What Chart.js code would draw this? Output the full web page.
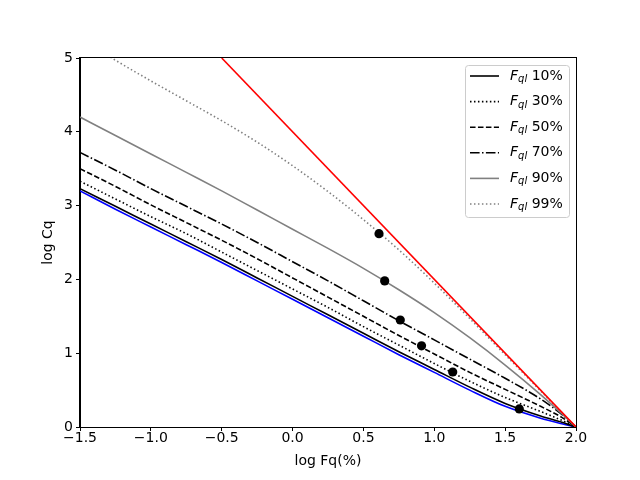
<!DOCTYPE html>
<html>
<head>
<meta charset="utf-8">
<script src="https://cdn.jsdelivr.net/npm/chart.js@4/dist/chart.umd.min.js"></script>
<style>
  html, body { margin: 0; padding: 0; background: #fff; }
  #c { display: block; }
</style>
</head>
<body>
<canvas id="c" width="640" height="480"></canvas>
<script>
// ---- data ----
const xs = [-1.5, -1.25, -1.0, -0.75, -0.5, -0.25, 0, 0.25, 0.5, 0.75, 1.0, 1.25, 1.5, 1.75, 1.9, 2.0];
const lowerBound = [3.20, 2.95, 2.71, 2.47, 2.23, 1.98, 1.73, 1.48, 1.23, 0.98, 0.74, 0.50, 0.28, 0.12, 0.045, 0];
const fq10 = [3.23, 2.99, 2.75, 2.51, 2.27, 2.02, 1.77, 1.52, 1.27, 1.02, 0.78, 0.54, 0.32, 0.15, 0.065, 0];
const fq30 = [3.33, 3.09, 2.85, 2.62, 2.37, 2.12, 1.87, 1.62, 1.36, 1.11, 0.86, 0.62, 0.40, 0.21, 0.09, 0];
const fq50 = [3.50, 3.26, 3.01, 2.77, 2.53, 2.28, 2.02, 1.76, 1.50, 1.24, 0.99, 0.74, 0.51, 0.28, 0.13, 0];
const fq70 = [3.72, 3.48, 3.23, 2.99, 2.75, 2.50, 2.24, 1.98, 1.71, 1.44, 1.18, 0.92, 0.66, 0.38, 0.17, 0];
const fq90 = [4.20, 3.95, 3.70, 3.45, 3.20, 2.94, 2.68, 2.42, 2.15, 1.86, 1.55, 1.21, 0.84, 0.44, 0.18, 0];
const fq99 = [5.27, 4.97, 4.69, 4.42, 4.15, 3.86, 3.54, 3.19, 2.81, 2.40, 1.95, 1.47, 0.98, 0.49, 0.19, 0];
const upperX = [-0.5, 2.0];
const upperY = [5, 0];
const markerX = [0.61, 0.65, 0.76, 0.91, 1.13, 1.60];
const markerY = [2.62, 1.98, 1.45, 1.10, 0.745, 0.245];
const seriesNames = ['10%', '30%', '50%', '70%', '90%', '99%'];
const xTicks = [-1.5, -1.0, -0.5, 0.0, 0.5, 1.0, 1.5, 2.0];
const yTicks = [0, 1, 2, 3, 4, 5];
const xTitle = 'log Fq(%)';
const yTitle = 'log Cq';

// ---- styles ----
const LW = 1.6;
const DOT = [1.5, 2.475];
const DASH = [5.55, 2.4];
const DASHDOT = [9.6, 2.4, 1.5, 2.4];
const seriesValues = [fq10, fq30, fq50, fq70, fq90, fq99];
const seriesStyles = [
  { color: '#000000', dash: [] },
  { color: '#000000', dash: DOT },
  { color: '#000000', dash: DASH },
  { color: '#000000', dash: DASHDOT },
  { color: '#808080', dash: [] },
  { color: '#808080', dash: DOT }
];
const pts = (xa, ya) => xa.map((x, i) => ({ x: x, y: ya[i] }));

const datasets = [];
datasets.push({
  label: 'lower', data: pts(xs, lowerBound), borderColor: '#0000ff', borderWidth: LW,
  pointRadius: 0, cubicInterpolationMode: 'monotone', order: 20, inLegend: false
});
seriesValues.forEach((vals, i) => {
  datasets.push({
    label: 'F_ql ' + seriesNames[i], legendText: seriesNames[i],
    data: pts(xs, vals), borderColor: seriesStyles[i].color, borderDash: seriesStyles[i].dash,
    borderWidth: LW, borderCapStyle: 'butt', pointRadius: 0, cubicInterpolationMode: 'monotone',
    order: 10 - i, inLegend: true
  });
});
datasets.push({
  label: 'upper', data: pts(upperX, upperY), borderColor: '#ff0000', borderWidth: LW,
  pointRadius: 0, order: 2, inLegend: false
});
datasets.push({
  label: 'points', data: pts(markerX, markerY), showLine: false, pointRadius: 4.6,
  pointBackgroundColor: '#000000', pointBorderColor: '#000000', pointBorderWidth: 0,
  order: 1, inLegend: false
});

const FONT = '"DejaVu Sans", sans-serif';
const fmt = v => (v < 0 ? '\u2212' : '') + Math.abs(v).toFixed(1);

const framePlugin = {
  id: 'frame',
  afterDatasetsDraw(chart) {
    const a = chart.chartArea, ctx = chart.ctx;
    ctx.save();
    ctx.strokeStyle = '#000';
    ctx.lineWidth = 1;
    ctx.strokeRect(Math.round(a.left) - 0.5, Math.round(a.top) - 0.5,
      Math.round(a.right - a.left) + 1, Math.round(a.bottom - a.top) + 1);
    ctx.restore();
  }
};

const legendPlugin = {
  id: 'mplLegend',
  afterDraw(chart) {
    const a = chart.chartArea, ctx = chart.ctx;
    const items = chart.data.datasets.filter(d => d.inLegend);
    const w = 104, rowH = 25.6, h = 152;
    const x0 = a.right - 7 - w, y0 = a.top + 7;
    ctx.save();
    ctx.beginPath();
    if (ctx.roundRect) ctx.roundRect(x0 + 0.5, y0 + 0.5, w, h, 3); else ctx.rect(x0 + 0.5, y0 + 0.5, w, h);
    ctx.fillStyle = 'rgba(255,255,255,0.8)';
    ctx.fill();
    ctx.strokeStyle = '#cccccc';
    ctx.lineWidth = 1;
    ctx.stroke();
    items.forEach((d, i) => {
      const cy = y0 + 11 + i * rowH;
      ctx.beginPath();
      ctx.setLineDash(d.borderDash || []);
      ctx.lineCap = 'butt';
      ctx.strokeStyle = d.borderColor;
      ctx.lineWidth = LW;
      ctx.moveTo(x0 + 5, cy);
      ctx.lineTo(x0 + 34, cy);
      ctx.stroke();
      ctx.setLineDash([]);
      ctx.fillStyle = '#000';
      ctx.textBaseline = 'middle';
      ctx.textAlign = 'left';
      let tx = x0 + 45;
      ctx.font = 'italic 14px ' + FONT;
      ctx.fillText('F', tx, cy);
      tx += ctx.measureText('F').width;
      ctx.font = 'italic 10px ' + FONT;
      ctx.fillText('ql', tx, cy + 3.5);
      tx += ctx.measureText('ql').width;
      ctx.font = '14px ' + FONT;
      ctx.fillText(' ' + d.legendText, tx, cy);
    });
    ctx.restore();
  }
};

new Chart(document.getElementById('c'), {
  type: 'line',
  data: { datasets: datasets },
  plugins: [framePlugin, legendPlugin],
  options: {
    responsive: false,
    devicePixelRatio: 1,
    animation: false,
    events: [],
    layout: { padding: { left: 0, top: 58, right: 64, bottom: 0 } },
    plugins: { legend: { display: false }, tooltip: { enabled: false } },
    scales: {
      x: {
        type: 'linear', min: -1.5, max: 2.0,
        afterBuildTicks: s => { s.ticks = xTicks.map(v => ({ value: v })); },
        afterFit: s => { s.height = 53; },
        ticks: { callback: v => fmt(v), color: '#000', font: { family: FONT, size: 14 }, padding: -1, maxRotation: 0, autoSkip: false },
        grid: { display: true, drawOnChartArea: false, drawTicks: true, tickLength: 4, tickColor: '#000', tickWidth: 1 },
        border: { display: true, color: '#000', width: 1 },
        title: { display: true, text: xTitle, color: '#000', font: { family: FONT, size: 14 }, padding: { top: 0, bottom: 10 } }
      },
      y: {
        type: 'linear', min: 0, max: 5,
        afterBuildTicks: s => { s.ticks = yTicks.map(v => ({ value: v })); },
        afterFit: s => { s.width = 80; },
        ticks: { callback: v => String(v), color: '#000', font: { family: FONT, size: 14 }, padding: 3, autoSkip: false },
        grid: { display: true, drawOnChartArea: false, drawTicks: true, tickLength: 4, tickColor: '#000', tickWidth: 1 },
        border: { display: true, color: '#000', width: 1 },
        title: { display: true, text: yTitle, color: '#000', font: { family: FONT, size: 14 }, padding: { top: 40, bottom: 0 } }
      }
    }
  }
});
</script>
</body>
</html>
